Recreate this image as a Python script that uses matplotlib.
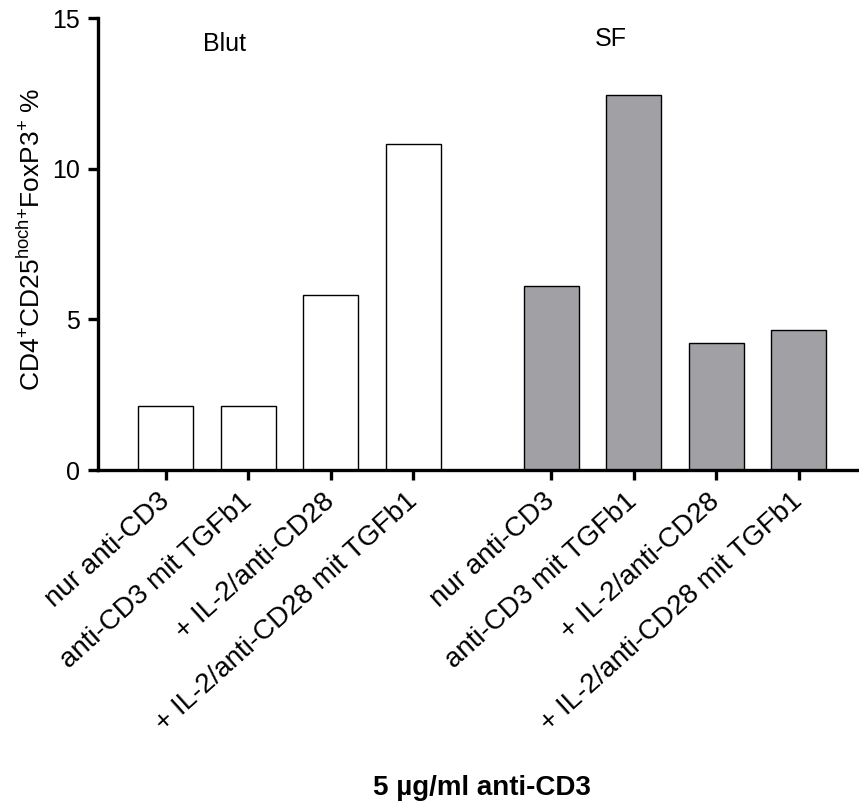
import matplotlib
matplotlib.use("Agg")
import matplotlib.pyplot as plt

plt.rcParams["font.family"] = ["Liberation Sans", "DejaVu Sans"]
plt.rcParams["mathtext.fontset"] = "custom"
plt.rcParams["mathtext.rm"] = "Liberation Sans"
plt.rcParams["mathtext.it"] = "Liberation Sans:italic"
plt.rcParams["mathtext.bf"] = "Liberation Sans:bold"

# Conditions (identical for both tissues)
conditions = [
    "nur anti-CD3",
    "anti-CD3 mit TGFb1",
    "+ IL-2/anti-CD28",
    "+ IL-2/anti-CD28 mit TGFb1",
]
groups = ["Blut", "SF"]

# Percentage of CD4+CD25hoch+FoxP3+ cells
blut_values = [2.14, 2.12, 5.80, 10.83]
sf_values = [6.12, 12.46, 4.21, 4.65]

# Category positions: second group is set off by a gap
blut_pos = [0, 1, 2, 3]
sf_pos = [4.667, 5.667, 6.667, 7.667]

fig = plt.figure(figsize=(8.59, 8.09), dpi=100)
ax = fig.add_axes([0.1137, 0.419, 0.8863, 0.5583])

bar_w = 0.667
ax.bar(blut_pos, blut_values, width=bar_w, color="white",
       edgecolor="black", linewidth=1.0, zorder=2)
ax.bar(sf_pos, sf_values, width=bar_w, color="#a1a0a5",
       edgecolor="black", linewidth=1.0, zorder=2)

ax.set_xlim(-0.828, 8.4)
ax.set_ylim(0, 15)
ax.set_yticks([0, 5, 10, 15])

ax.set_xticks(blut_pos + sf_pos)
ax.set_xticklabels(conditions + conditions, rotation=42, ha="right",
                   va="center", rotation_mode="anchor", fontsize=20)

for side in ("top", "right"):
    ax.spines[side].set_visible(False)
for side in ("left", "bottom"):
    ax.spines[side].set_linewidth(2.4)

ax.tick_params(axis="y", direction="out", length=7, width=2.4,
               labelsize=18, pad=6)
ax.tick_params(axis="x", direction="out", length=7, width=2.4, pad=13)

# Group headings
ax.text(0.715, 14.15, groups[0], ha="center", va="center", fontsize=18)
ax.text(5.39, 14.32, groups[1], ha="center", va="center", fontsize=18)

# Axis titles
fig.text(31 / 859, 1 - 239 / 809,
         r"CD4$^{+}$CD25$^{\mathrm{hoch}{+}}$FoxP3$^{+}$ %",
         rotation=90, ha="center", va="center", fontsize=19)
fig.text(482 / 859, 1 - 795 / 809, "5 µg/ml anti-CD3",
         ha="center", va="baseline", fontsize=20, fontweight="bold")

fig.savefig("out.png", dpi=100)
